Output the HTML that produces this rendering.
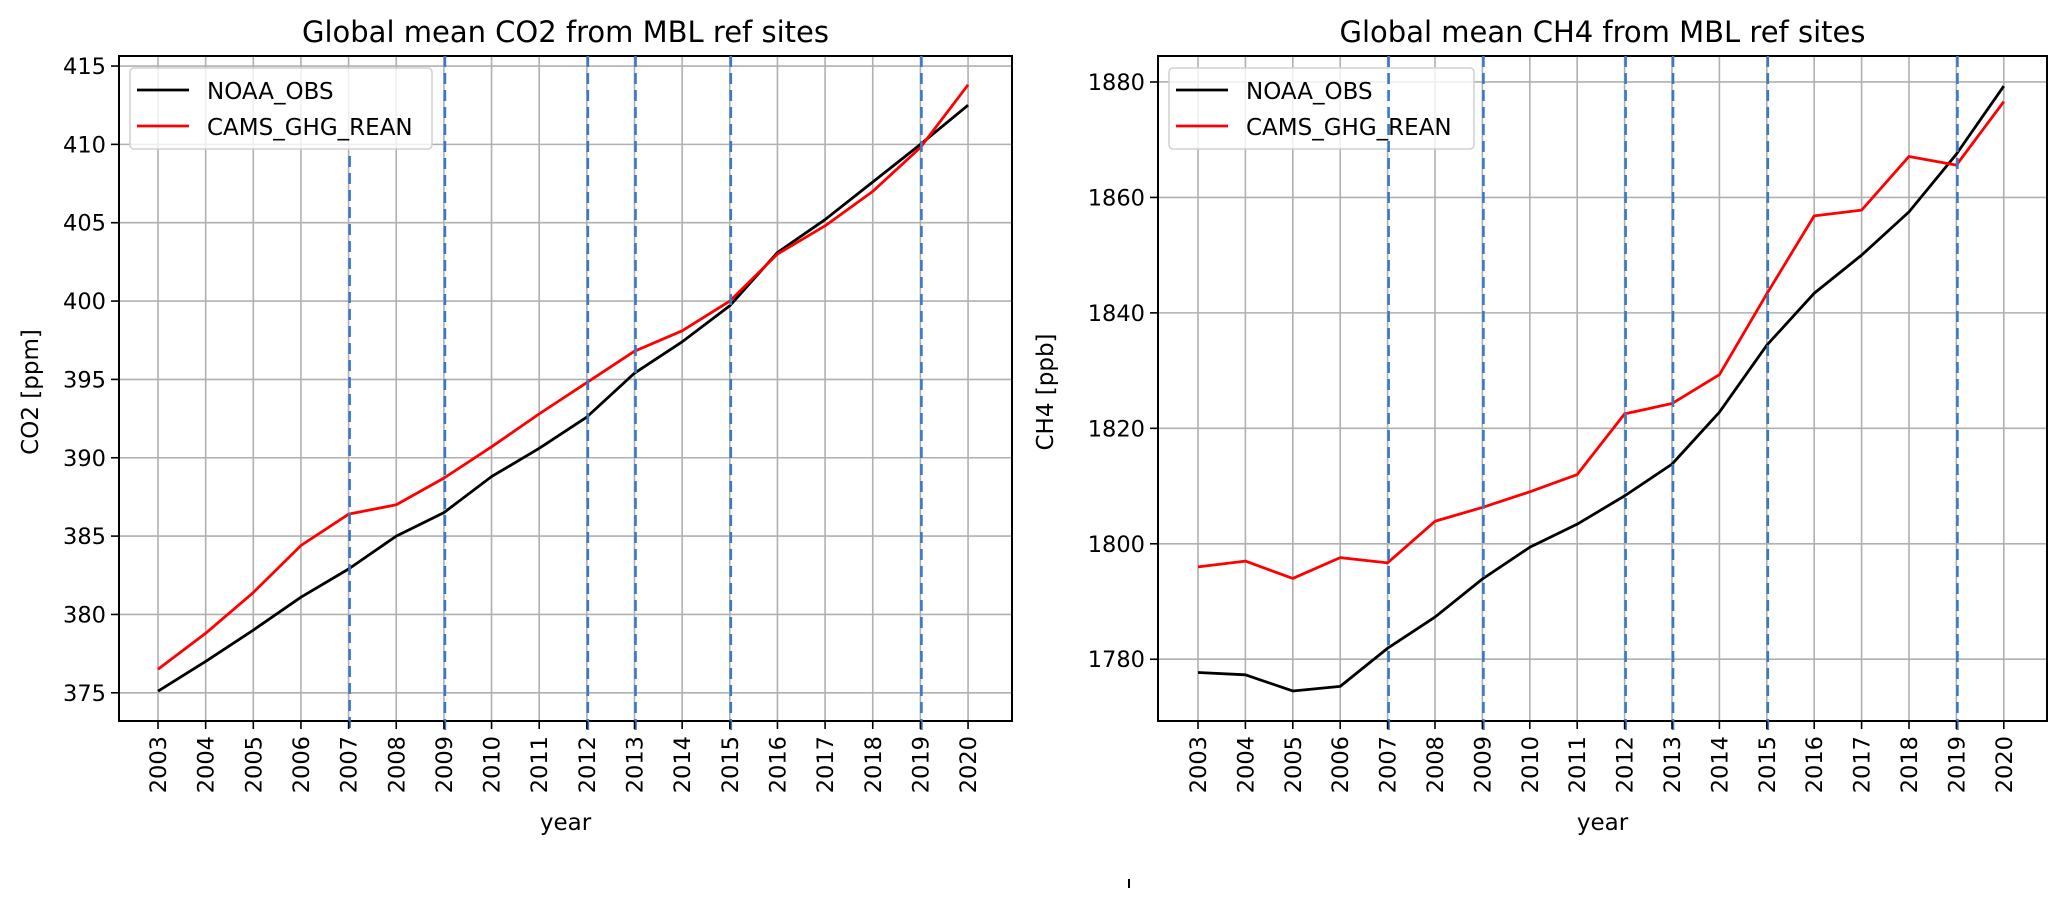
<!DOCTYPE html>
<html><head><meta charset="utf-8">
<style>
html,body{margin:0;padding:0;background:#fff;}
svg{display:block;font-family:"DejaVu Sans","Liberation Sans",sans-serif;}
</style></head>
<body>
<svg id="fig" width="2067" height="906" viewBox="0 0 2067 906" xmlns="http://www.w3.org/2000/svg"></svg>
<script>
const years = [2003,2004,2005,2006,2007,2008,2009,2010,2011,2012,2013,2014,2015,2016,2017,2018,2019,2020];
const co2Noaa = [375.1,377.0,379.0,381.1,382.9,385.0,386.5,388.8,390.6,392.6,395.4,397.4,399.7,403.1,405.2,407.6,410.0,412.5];
const co2Cams = [376.5,378.8,381.4,384.4,386.4,387.0,388.7,390.7,392.8,394.8,396.8,398.1,400.0,403.0,404.8,407.0,409.8,413.8];
const ch4Noaa = [1777.7,1777.3,1774.5,1775.3,1781.9,1787.3,1793.9,1799.4,1803.4,1808.3,1813.8,1822.8,1834.4,1843.4,1850.0,1857.5,1867.5,1879.3];
const ch4Cams = [1796.0,1797.0,1794.0,1797.6,1796.7,1803.9,1806.3,1809.0,1812.0,1822.5,1824.3,1829.3,1843.3,1856.8,1857.8,1867.1,1865.6,1876.6];
const co2Ticks = [375,380,385,390,395,400,405,410,415];
const ch4Ticks = [1780,1800,1820,1840,1860,1880];
const markerYears = [2007,2009,2012,2013,2015,2019];

const NS = "http://www.w3.org/2000/svg";
const fig = document.getElementById('fig');
function mk(tag, attrs, parent){
  const e = document.createElementNS(NS, tag);
  for (const k in attrs) e.setAttribute(k, attrs[k]);
  (parent||fig).appendChild(e);
  return e;
}

function panel(cfg){
  const g = mk('g', {});
  
  
  const L=cfg.L, R=cfg.R, T=56, B=721;
  const x = v => cfg.x0 + (v-2003)*cfg.dx;
  const y = v => B - (v-cfg.ymin)/(cfg.ymax-cfg.ymin)*(B-T);
  years.forEach(yr=>{
    const l = mk('line',{x1:x(yr),x2:x(yr),y1:T,y2:B,stroke:'#b0b0b0','stroke-width':1.6},g);
    
    
  });
  cfg.ticks.forEach(t=>{
    const l = mk('line',{x1:L,x2:R,y1:y(t),y2:y(t),stroke:'#b0b0b0','stroke-width':1.6},g);
    
    
  });
  function series(vals,color,nm){
    const p = mk('polyline',{points:vals.map((v,i)=>x(years[i])+','+y(v)).join(' '),fill:'none',stroke:color,'stroke-width':2.8,'stroke-linejoin':'round'},g);
    
    
  }
  series(cfg.noaa,'#000','noaa-obs-line');
  series(cfg.cams,'#ff0000','cams-ghg-rean-line');
  const sp = mk('rect',{x:L,y:T,width:R-L,height:B-T,fill:'none',stroke:'#000','stroke-width':2},g);
  
  
  const lg = mk('g',{},g);
  
  
  mk('rect',{x:L+11,y:68,width:cfg.legW,height:81,rx:4,fill:'#fff','fill-opacity':0.8,stroke:'#d0d0d0','stroke-width':1.5},lg);
  const e1 = mk('g',{},lg);
  
  
  mk('line',{x1:L+18,x2:L+70,y1:90,y2:90,stroke:'#000','stroke-width':2.8},e1);
  const t1 = mk('text',{x:L+88,y:99,'font-size':23,fill:'#000'},e1); t1.textContent='NOAA_OBS';
  const e2 = mk('g',{},lg);
  
  
  mk('line',{x1:L+18,x2:L+70,y1:126,y2:126,stroke:'#ff0000','stroke-width':2.8},e2);
  const t2 = mk('text',{x:L+88,y:135,'font-size':23,fill:'#000'},e2); t2.textContent='CAMS_GHG_REAN';
  markerYears.forEach(yr=>{
    const top = (cfg.name==='co2-panel' && yr===2007) ? 156 : T;
    const l = mk('line',{x1:x(yr)+1,x2:x(yr)+1,y1:top,y2:B+13,stroke:'#3b78c3','stroke-width':2.6,'stroke-dasharray':'11,6'},g);
    
    
  });
  years.forEach(yr=>{
    mk('line',{x1:x(yr),x2:x(yr),y1:B,y2:B+8,stroke:'#000','stroke-width':1.6},g);
    const t = mk('text',{x:0,y:0,'font-size':22.5,fill:'#000','text-anchor':'end',transform:`translate(${x(yr)+8},${B+15}) rotate(-90)`},g);
    t.textContent = yr;
    
    
  });
  cfg.ticks.forEach(tv=>{
    mk('line',{x1:L-8,x2:L,y1:y(tv),y2:y(tv),stroke:'#000','stroke-width':1.6},g);
    const t = mk('text',{x:L-13,y:y(tv)+8,'font-size':22.5,fill:'#000','text-anchor':'end'},g);
    t.textContent = tv;
    
    
  });
  const xt = mk('text',{x:(L+R)/2,y:830,'font-size':23,'text-anchor':'middle',fill:'#000'},g);
  xt.textContent='year';
  
  
  const yt = mk('text',{x:0,y:0,'font-size':23,'text-anchor':'middle',fill:'#000',transform:`translate(${cfg.ylx},392) rotate(-90)`},g);
  yt.textContent=cfg.ylabel;
  
  
  const tt = mk('text',{x:(L+R)/2,y:42,'font-size':29,'text-anchor':'middle',fill:'#000'},g);
  tt.textContent=cfg.title;
  
  
}

panel({name:'co2-panel',L:119,R:1012,x0:158,dx:47.65,ymin:373.2,ymax:415.64,ticks:co2Ticks,noaa:co2Noaa,cams:co2Cams,legW:302,ylabel:'CO2 [ppm]',ylx:38,title:'Global mean CO2 from MBL ref sites'});
panel({name:'ch4-panel',L:1158,R:2047,x0:1198,dx:47.4,ymin:1769.3,ymax:1884.5,ticks:ch4Ticks,noaa:ch4Noaa,cams:ch4Cams,legW:305,ylabel:'CH4 [ppb]',ylx:1053,title:'Global mean CH4 from MBL ref sites'});

const mark = mk('line',{x1:1129,x2:1129,y1:879,y2:888,stroke:'#000','stroke-width':2});


</script>
</body></html>
